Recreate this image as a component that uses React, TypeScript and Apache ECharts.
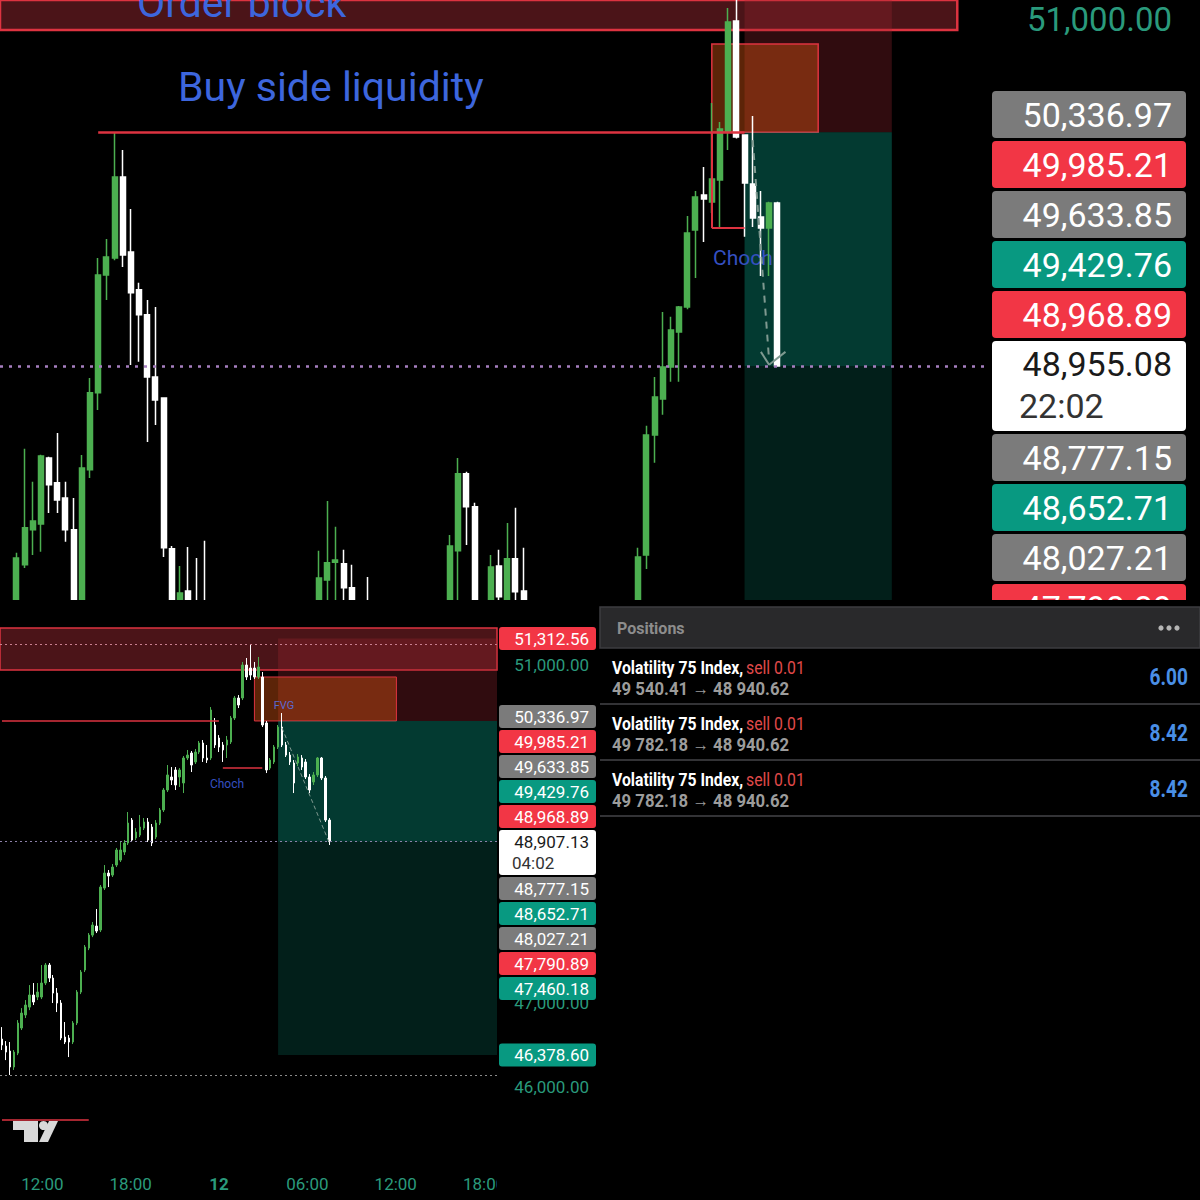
import React, { useEffect, useRef } from "react";
import * as echarts from "echarts";

// ---------------- DATA ----------------
// Top (zoomed) chart candles: [open, close, low, high]
const topCandles: number[][] = [
  [47320, 47410, 47280, 47450],
  [47400, 47360, 47300, 47480],
  [47500, 47820, 47450, 47850],
  [47780, 47998, 47760, 48465],
  [47986, 48039, 47838, 48270],
  [48021, 48423, 47856, 48430],
  [48411, 48252, 48086, 48418],
  [48264, 48163, 48086, 48559],
  [48175, 47986, 47915, 48270],
  [47986, 47470, 47450, 48175],
  [47470, 48352, 47450, 48429],
  [48341, 48796, 48293, 48884],
  [48796, 49493, 48695, 49593],
  [49493, 49599, 49345, 49706],
  [49593, 50072, 49580, 50338],
  [50072, 49611, 49540, 50232],
  [49629, 49387, 48961, 49883],
  [49405, 49257, 48979, 49446],
  [49257, 48890, 48506, 49345],
  [48890, 48754, 48606, 49304],
  [48766, 47880, 47826, 48770],
  [47874, 47470, 47450, 47891],
  [47470, 47613, 47450, 47773],
  [47625, 47500, 47450, 47885],
  [47550, 47470, 47450, 47820],
  [47520, 47470, 47450, 47921],
  [47440, 47310, 47250, 47490],
  [47310, 47180, 47120, 47360],
  [47180, 47240, 47090, 47300],
  [47240, 47100, 47040, 47280],
  [47100, 47020, 46950, 47150],
  [47020, 47130, 46980, 47190],
  [47130, 47060, 47000, 47210],
  [47060, 47190, 47010, 47250],
  [47190, 47280, 47140, 47330],
  [47280, 47220, 47170, 47350],
  [47220, 47350, 47180, 47400],
  [47350, 47300, 47240, 47420],
  [47300, 47420, 47260, 47480],
  [47470, 47702, 47450, 47862],
  [47690, 47791, 47500, 48157],
  [47795, 47808, 47500, 48004],
  [47785, 47643, 47550, 47868],
  [47643, 47470, 47450, 47779],
  [47450, 47400, 47350, 47500],
  [47480, 47460, 47450, 47708],
  [47420, 47330, 47280, 47460],
  [47330, 47210, 47160, 47380],
  [47210, 47280, 47150, 47330],
  [47280, 47160, 47100, 47320],
  [47160, 47250, 47120, 47300],
  [47250, 47340, 47200, 47390],
  [47340, 47290, 47230, 47410],
  [47290, 47380, 47250, 47430],
  [47380, 47470, 47340, 47520],
  [47480, 47891, 47450, 47956],
  [47862, 48317, 47500, 48411],
  [48317, 48122, 47897, 48330],
  [48122, 47470, 47450, 48146],
  [47450, 47380, 47320, 47520],
  [47470, 47767, 47450, 47838],
  [47773, 47590, 47500, 47868],
  [47500, 47815, 47450, 48027],
  [47815, 47620, 47550, 48116],
  [47625, 47470, 47450, 47880],
  [47450, 47360, 47300, 47500],
  [47360, 47240, 47190, 47410],
  [47240, 47310, 47180, 47360],
  [47310, 47190, 47130, 47350],
  [47190, 47080, 47030, 47230],
  [47080, 47150, 47020, 47200],
  [47150, 47230, 47100, 47280],
  [47230, 47170, 47110, 47290],
  [47170, 47260, 47130, 47310],
  [47260, 47340, 47220, 47390],
  [47340, 47290, 47240, 47400],
  [47290, 47380, 47250, 47430],
  [47380, 47460, 47330, 47510],
  [47470, 47826, 47450, 47880],
  [47838, 48547, 47755, 48601],
  [48547, 48772, 48382, 48890],
  [48760, 48949, 48666, 49274],
  [48949, 49168, 48861, 49245],
  [49156, 49304, 48861, 49310],
  [49304, 49741, 49290, 49842],
  [49759, 49954, 49475, 49989],
  [49966, 49942, 49688, 50131],
  [49924, 50060, 49859, 50510],
  [50054, 50356, 49777, 50397],
  [50338, 50988, 50232, 51071],
  [50994, 50309, 50300, 51140],
  [50320, 50037, 49718, 50320],
  [50031, 49830, 49777, 50433],
  [49836, 49771, 49487, 49989],
  [49771, 49918, 49487, 49925],
  [49918, 48955, 48950, 49925],
];

// Bottom (overview) chart candles: [open, close, low, high]
const bottomCandles: number[][] = [
  [46568, 46497, 46438, 46710],
  [46485, 46414, 46319, 46544],
  [46426, 46237, 46142, 46533],
  [46237, 46414, 46202, 46438],
  [46402, 46758, 46378, 46793],
  [46699, 46876, 46675, 46935],
  [46853, 46971, 46817, 47030],
  [46947, 47090, 46911, 47208],
  [47090, 47007, 46971, 47232],
  [47066, 47125, 47030, 47232],
  [47066, 47232, 47042, 47445],
  [47232, 47445, 47208, 47469],
  [47445, 47291, 47244, 47469],
  [47291, 47113, 46995, 47327],
  [47113, 46995, 46888, 47173],
  [46995, 46580, 46556, 47030],
  [46592, 46533, 46509, 46770],
  [46580, 46533, 46355, 46616],
  [46533, 46758, 46509, 46781],
  [46758, 47125, 46734, 47149],
  [47125, 47362, 47101, 47386],
  [47386, 47658, 47362, 47682],
  [47646, 47800, 47622, 47824],
  [47800, 47919, 47776, 47955],
  [47907, 47848, 47824, 48109],
  [47860, 48369, 47836, 48393],
  [48357, 48535, 48334, 48630],
  [48535, 48500, 48369, 48571],
  [48511, 48606, 48488, 48642],
  [48630, 48808, 48606, 48832],
  [48689, 48808, 48666, 48903],
  [48784, 48891, 48749, 48926],
  [48891, 49128, 48867, 49258],
  [49163, 48926, 48903, 49187],
  [48950, 49021, 48926, 49068],
  [48985, 49080, 48962, 49223],
  [49068, 49140, 49045, 49187],
  [49140, 48926, 48903, 49187],
  [49080, 48891, 48855, 49116],
  [48962, 49128, 48938, 49163],
  [49128, 49282, 49104, 49306],
  [49282, 49519, 49258, 49543],
  [49519, 49697, 49495, 49815],
  [49673, 49637, 49578, 49791],
  [49756, 49578, 49519, 49791],
  [49673, 49756, 49555, 49779],
  [49602, 49898, 49483, 49922],
  [49898, 49933, 49874, 49993],
  [49957, 49815, 49732, 49981],
  [49851, 49969, 49827, 50005],
  [49969, 50076, 49945, 50100],
  [50076, 49898, 49851, 50111],
  [49898, 49874, 49839, 50052],
  [49898, 50467, 49874, 50502],
  [50289, 50052, 50017, 50372],
  [50135, 50028, 49969, 50170],
  [50052, 49993, 49851, 50088],
  [50052, 50111, 49898, 50159],
  [50088, 50372, 50064, 50396],
  [50372, 50609, 50348, 50633],
  [50609, 50526, 50490, 50644],
  [50609, 51000, 50585, 51036],
  [51000, 50858, 50822, 51083],
  [50964, 50881, 50822, 51237],
  [50964, 50858, 50834, 51036],
  [50858, 50976, 50834, 51095],
  [50858, 50289, 50265, 50917],
  [50313, 49756, 49720, 50337],
  [49779, 49874, 49756, 49898],
  [49851, 50028, 49827, 50052],
  [50028, 50265, 50005, 50289],
  [50265, 50052, 50028, 50431],
  [50052, 49933, 49910, 50088],
  [49933, 49851, 49815, 49969],
  [49839, 49602, 49483, 49874],
  [49839, 49910, 49803, 49945],
  [49898, 49791, 49756, 49933],
  [49851, 49673, 49649, 49886],
  [49673, 49519, 49483, 49708],
  [49614, 49697, 49578, 49732],
  [49697, 49898, 49673, 49910],
  [49898, 49661, 49637, 49910],
  [49661, 49163, 49140, 49685],
  [49163, 48907, 48867, 49187],
];

const TOP_CATEGORY_COUNT = 122;
const BOTTOM_CATEGORY_COUNT = 126;
const TIME_CATEGORY_COUNT = 135;

const topAxisValues = [51000];
const bottomAxisValues = [51000, 47000, 46000];
const timeTickIndex = [11, 35, 59, 83, 107, 131];
const timeTickLabels = ["12:00", "18:00", "12", "06:00", "12:00", "18:00"];

// price levels
const orderBlockLow = 50941;
const orderBlockHigh = 51438;
const stopLossPrice = 51312.56;
const entryPrice = 50336.97;
const takeProfitPrice = 46378.6;
const fvgLow = 50337;
const fvgHigh = 50858;
const topCurrentPrice = 48955.08;
const bottomCurrentPrice = 48907.13;
const topChochLevel = 49771;
const bottomChochLevel = 49779;
const bottomObDottedLevel = 51240;
const bottomLowDottedLevel = 46140;
const bottomRedLevel = 45609;

// price tags
const topTagLabels = ["50,336.97", "49,985.21", "49,633.85", "49,429.76", "48,968.89", "48,955.08", "48,777.15", "48,652.71", "48,027.21", "47,790.89"];
const topTagKinds = ["gray", "red", "gray", "teal", "red", "current", "gray", "teal", "gray", "red"];
const topClock = "22:02";
const bottomTagLabels = ["50,336.97", "49,985.21", "49,633.85", "49,429.76", "48,968.89", "48,907.13", "48,777.15", "48,652.71", "48,027.21", "47,790.89", "47,460.18"];
const bottomTagKinds = ["gray", "red", "gray", "teal", "red", "current", "gray", "teal", "gray", "red", "teal"];
const bottomClock = "04:02";
const stopLossLabel = "51,312.56";
const takeProfitLabel = "46,378.60";

// positions panel
const positionSymbols = ["Volatility 75 Index,", "Volatility 75 Index,", "Volatility 75 Index,"];
const positionSides = ["sell 0.01", "sell 0.01", "sell 0.01"];
const positionOpen = ["49 540.41", "49 782.18", "49 782.18"];
const positionNow = ["48 940.62", "48 940.62", "48 940.62"];
const positionProfit = ["6.00", "8.42", "8.42"];

// ---------------- STYLE ----------------
const GREEN = "#4caf50";
const WHITE = "#ffffff";
const AXIS_GREEN = "#2a9a7c";
const BLUE_TXT = "#3d66dd";
const TAG_FILL: Record<string, string> = { gray: "#7b7b7b", red: "#f23645", teal: "#089981", current: "#ffffff" };

const fmt = (v: number) => v.toLocaleString("en-US", { minimumFractionDigits: 2, maximumFractionDigits: 2 });

function buildOption() {
  const topCats = Array.from({ length: TOP_CATEGORY_COUNT }, (_, i) => String(i));
  const bottomCats = Array.from({ length: BOTTOM_CATEGORY_COUNT }, (_, i) => String(i));
  const timeCats = Array.from({ length: TIME_CATEGORY_COUNT }, (_, i) => String(i));

  const obFill = "rgba(150,40,48,0.5)";
  const slFill = "rgba(160,40,50,0.3)";
  const fvgFill = "rgba(230,90,20,0.4)";
  const tpUpper = "rgba(8,153,129,0.38)";
  const tpLower = "rgba(8,153,129,0.2)";
  const red = "#dd3340";

  return {
    animation: false,
    backgroundColor: "#000",
    textStyle: { fontFamily: "Roboto" },
    grid: [
      { left: 0, top: 0, width: 990, height: 600 },
      { left: 0, top: 605, width: 497, height: 555 },
    ],
    xAxis: [
      { type: "category", gridIndex: 0, data: topCats, boundaryGap: false, show: false },
      { type: "category", gridIndex: 1, data: bottomCats, boundaryGap: true, show: false },
      {
        type: "category",
        gridIndex: 1,
        data: timeCats,
        boundaryGap: true,
        position: "bottom",
        axisLine: { show: false },
        axisTick: { show: false },
        splitLine: { show: false },
        axisLabel: {
          interval: (index: number) => timeTickIndex.includes(index),
          formatter: (_v: string, index: number) => {
            const k = timeTickIndex.indexOf(index);
            if (k < 0) return "";
            return timeTickLabels[k] === "12" ? "{b|12}" : timeTickLabels[k];
          },
          color: AXIS_GREEN,
          fontSize: 17,
          margin: 15,
          rich: { b: { fontWeight: "bold", fontSize: 17, color: AXIS_GREEN } },
        },
      },
    ],
    yAxis: [
      {
        type: "value",
        gridIndex: 0,
        position: "right",
        min: 47571.3,
        max: 51118.2,
        splitLine: { show: false },
        axisLine: { show: false },
        axisTick: { show: false },
        axisLabel: { customValues: topAxisValues, formatter: fmt, color: AXIS_GREEN, fontSize: 33, align: "right", margin: 182 },
      },
      {
        type: "value",
        gridIndex: 1,
        position: "right",
        min: 45135.2,
        max: 51710.9,
        splitLine: { show: false },
        axisLine: { show: false },
        axisTick: { show: false },
        axisLabel: { customValues: bottomAxisValues, formatter: fmt, color: AXIS_GREEN, fontSize: 17, align: "right", margin: 92 },
      },
    ],
    series: [
      {
        type: "candlestick",
        xAxisIndex: 0,
        yAxisIndex: 0,
        z: 3,
        clip: true,
        barWidth: 5.5,
        data: topCandles,
        itemStyle: { color: GREEN, color0: WHITE, borderColor: GREEN, borderColor0: WHITE, borderWidth: 1.5 },
        markArea: {
          z: 1,
          silent: true,
          label: { show: false },
          data: [
            [{ xAxis: 0, yAxis: orderBlockLow, itemStyle: { color: obFill, borderColor: red, borderWidth: 2.5 } }, { xAxis: 117, yAxis: orderBlockHigh }],
            [{ xAxis: 91, yAxis: entryPrice, itemStyle: { color: slFill, borderWidth: 0 } }, { xAxis: 109, yAxis: stopLossPrice + 200 }],
            [{ xAxis: 87, yAxis: fvgLow, itemStyle: { color: fvgFill, borderColor: red, borderWidth: 1.5 } }, { xAxis: 100, yAxis: fvgHigh }],
            [{ xAxis: 91, yAxis: topCurrentPrice, itemStyle: { color: tpUpper, borderWidth: 0 } }, { xAxis: 109, yAxis: entryPrice }],
            [{ xAxis: 91, yAxis: takeProfitPrice, itemStyle: { color: tpLower, borderWidth: 0 } }, { xAxis: 109, yAxis: topCurrentPrice }],
          ],
        },
        markLine: {
          z: 4,
          silent: true,
          symbol: ["none", "none"],
          label: { show: false },
          data: [
            { yAxis: topCurrentPrice, lineStyle: { color: "#a67fc0", width: 2.5, type: [3, 6] } },
            [{ coord: [12, entryPrice], lineStyle: { color: red, width: 2.5, type: "solid" } }, { coord: [91, entryPrice] }],
            [{ coord: [87, topChochLevel], lineStyle: { color: red, width: 2, type: "solid" } }, { coord: [91, topChochLevel] }],
            [{ coord: [87, fvgLow], lineStyle: { color: red, width: 2, type: "solid" } }, { coord: [87, topChochLevel] }],
            [{ coord: [92, 50290], lineStyle: { color: "#7f9990", width: 2, type: [7, 6] } }, { coord: [94, 48990] }],
            [{ coord: [93, 49038], lineStyle: { color: "#7f9990", width: 2, type: "solid" } }, { coord: [94, 48962] }],
            [{ coord: [96, 49038], lineStyle: { color: "#7f9990", width: 2, type: "solid" } }, { coord: [94, 48962] }],
          ],
        },
      },
      {
        type: "candlestick",
        xAxisIndex: 1,
        yAxisIndex: 1,
        z: 3,
        clip: true,
        barWidth: 2,
        data: bottomCandles,
        itemStyle: { color: GREEN, color0: WHITE, borderColor: GREEN, borderColor0: WHITE, borderWidth: 1 },
        markArea: {
          z: 1,
          silent: true,
          label: { show: false },
          data: [
            [{ yAxis: orderBlockLow, itemStyle: { color: obFill, borderColor: red, borderWidth: 1.5 } }, { yAxis: orderBlockHigh }],
            [{ xAxis: 70, yAxis: entryPrice, itemStyle: { color: slFill, borderWidth: 0 } }, { yAxis: stopLossPrice }],
            [{ xAxis: 64, yAxis: fvgLow, itemStyle: { color: fvgFill, borderColor: red, borderWidth: 1 } }, { xAxis: 100, yAxis: fvgHigh }],
            [{ xAxis: 70, yAxis: bottomCurrentPrice, itemStyle: { color: tpUpper, borderWidth: 0 } }, { yAxis: entryPrice }],
            [{ xAxis: 70, yAxis: takeProfitPrice, itemStyle: { color: tpLower, borderWidth: 0 } }, { yAxis: bottomCurrentPrice }],
          ],
        },
        markLine: {
          z: 4,
          silent: true,
          symbol: ["none", "none"],
          label: { show: false },
          data: [
            { yAxis: bottomCurrentPrice, lineStyle: { color: "#8c80a8", width: 1.2, type: [2, 3] } },
            { yAxis: bottomObDottedLevel, lineStyle: { color: "#c98090", width: 1.2, type: [2, 3] } },
            { yAxis: bottomLowDottedLevel, lineStyle: { color: "#8a8a8a", width: 1.2, type: [2, 3] } },
            [{ coord: [0, entryPrice], lineStyle: { color: red, width: 1.5, type: "solid" } }, { coord: [55, entryPrice] }],
            [{ coord: [56, bottomChochLevel], lineStyle: { color: red, width: 1.5, type: "solid" } }, { coord: [66, bottomChochLevel] }],
            [{ coord: [71, 50254], lineStyle: { color: "#7f9990", width: 1, type: [4, 3] } }, { coord: [83, 48891] }],
            [{ coord: [0, bottomRedLevel], lineStyle: { color: red, width: 1.5, type: "solid" } }, { coord: [22, bottomRedLevel] }],
          ],
        },
      },
    ],
  };
}

type TagLayout = {
  x: number; w: number; startY: number; h: number; curH: number; gap: number;
  fs: number; textRight: number; textLeft: number; line1: number; line2: number; r: number;
};

function stackTags(labels: string[], kinds: string[], clock: string, L: TagLayout) {
  const els: any[] = [];
  let y = L.startY;
  labels.forEach((label, i) => {
    const kind = kinds[i];
    const h = kind === "current" ? L.curH : L.h;
    els.push({ type: "rect", z: 30, shape: { x: L.x, y, width: L.w, height: h, r: L.r }, style: { fill: TAG_FILL[kind] } });
    if (kind === "current") {
      els.push({ type: "text", z: 31, style: { text: label, x: L.textRight, y: y + L.line1, align: "right", verticalAlign: "middle", fontSize: L.fs, fontFamily: "Roboto", fill: "#1a1a1a" } });
      els.push({ type: "text", z: 31, style: { text: clock, x: L.textLeft, y: y + L.line2, align: "left", verticalAlign: "middle", fontSize: L.fs, fontFamily: "Roboto", fill: "#333" } });
    } else {
      els.push({ type: "text", z: 31, style: { text: label, x: L.textRight, y: y + h / 2, align: "right", verticalAlign: "middle", fontSize: L.fs, fontFamily: "Roboto", fill: "#fff" } });
    }
    y += h + L.gap;
  });
  return els;
}

function singleTag(label: string, kind: string, cy: number, L: TagLayout) {
  return [
    { type: "rect", z: 30, shape: { x: L.x, y: cy - L.h / 2, width: L.w, height: L.h, r: L.r }, style: { fill: TAG_FILL[kind] } },
    { type: "text", z: 31, style: { text: label, x: L.textRight, y: cy, align: "right", verticalAlign: "middle", fontSize: L.fs, fontFamily: "Roboto", fill: "#fff" } },
  ];
}

function buildGraphic(slY: number, tpY: number) {
  const els: any[] = [];
  const topL: TagLayout = { x: 992, w: 194, startY: 91, h: 47, curH: 90, gap: 3, fs: 34, textRight: 1172, textLeft: 1019, line1: 23, line2: 65, r: 4 };
  const botL: TagLayout = { x: 499, w: 97, startY: 705, h: 23, curH: 45, gap: 2, fs: 17, textRight: 589, textLeft: 512, line1: 12, line2: 33, r: 3 };

  // annotations on top chart
  els.push({ type: "text", z: 6, style: { text: "Order block", x: 137, y: 3, verticalAlign: "middle", fontSize: 41, fontFamily: "Roboto", fill: BLUE_TXT } });
  els.push({ type: "text", z: 6, style: { text: "Buy side liquidity", x: 178, y: 87, verticalAlign: "middle", fontSize: 41, fontFamily: "Roboto", fill: BLUE_TXT } });
  els.push({ type: "text", z: 2, style: { text: "Choch", x: 713, y: 258, verticalAlign: "middle", fontSize: 21, fontFamily: "Roboto", fill: "#3550c0" } });
  // annotations on bottom chart
  els.push({ type: "text", z: 2, style: { text: "Choch", x: 227, y: 784, align: "center", verticalAlign: "middle", fontSize: 12, fontFamily: "Roboto", fill: "#3550c0" } });
  els.push({ type: "text", z: 2, style: { text: "FVG", x: 284, y: 705, align: "center", verticalAlign: "middle", fontSize: 11, fontFamily: "Roboto", fill: "#5a6ad0" } });

  // tags
  els.push(...stackTags(topTagLabels, topTagKinds, topClock, topL));
  els.push(...stackTags(bottomTagLabels, bottomTagKinds, bottomClock, botL));
  els.push(...singleTag(stopLossLabel, "red", slY, botL));
  els.push(...singleTag(takeProfitLabel, "teal", tpY, botL));

  // separator between the two screenshots (hides overflow of the top chart)
  els.push({ type: "rect", z: 40, shape: { x: 0, y: 600, width: 600, height: 26 }, style: { fill: "#000" } });
  els.push({ type: "rect", z: 40, shape: { x: 600, y: 600, width: 600, height: 6 }, style: { fill: "#000" } });
  // clip time axis under price scale
  els.push({ type: "rect", z: 40, shape: { x: 497, y: 1165, width: 103, height: 35 }, style: { fill: "#000" } });

  // TradingView logo
  els.push({ type: "polygon", z: 41, shape: { points: [[13, 1121], [38, 1121], [38, 1142], [24, 1142], [24, 1130], [13, 1130]] }, style: { fill: "#d9d9d9" } });
  els.push({ type: "circle", z: 41, shape: { cx: 43.5, cy: 1125.5, r: 4.5 }, style: { fill: "#d9d9d9" } });
  els.push({ type: "polygon", z: 41, shape: { points: [[49, 1121], [58, 1121], [48, 1142], [39, 1142]] }, style: { fill: "#d9d9d9" } });

  // positions panel
  els.push({ type: "rect", z: 45, shape: { x: 600, y: 606, width: 600, height: 594 }, style: { fill: "#000" } });
  els.push({ type: "rect", z: 46, shape: { x: 600, y: 607, width: 600, height: 41 }, style: { fill: "#29292b", stroke: "#3d3d40", lineWidth: 1.5 } });
  els.push({ type: "text", z: 47, style: { text: "Positions", x: 617, y: 628, verticalAlign: "middle", fontSize: 16, fontWeight: "bold", fontFamily: "Roboto", fill: "#8d8d8d" } });
  [1161, 1169, 1177].forEach((cx) => {
    els.push({ type: "circle", z: 47, shape: { cx, cy: 628, r: 2.6 }, style: { fill: "#b5b5b5" } });
  });
  positionSymbols.forEach((sym, k) => {
    const y0 = 667 + 56 * k;
    els.push({
      type: "text", z: 47, x: 612, y: y0, scaleX: 0.83,
      style: {
        text: `{s|${sym}} {d|${positionSides[k]}}`, x: 0, y: 0, verticalAlign: "middle",
        rich: {
          s: { fontSize: 19, fontWeight: "bold", fontFamily: "Roboto", fill: "#ffffff" },
          d: { fontSize: 19, fontFamily: "Roboto", fill: "#e04a4a" },
        },
      },
    });
    els.push({ type: "text", z: 47, x: 612, y: y0 + 21, scaleX: 0.88, style: { text: `${positionOpen[k]} → ${positionNow[k]}`, x: 0, y: 0, verticalAlign: "middle", fontSize: 19, fontWeight: "bold", fontFamily: "Roboto", fill: "#9c9c9c" } });
    els.push({ type: "text", z: 47, x: 1188, y: y0 + 10, scaleX: 0.83, style: { text: positionProfit[k], x: 0, y: 0, align: "right", verticalAlign: "middle", fontSize: 23, fontWeight: "bold", fontFamily: "Roboto", fill: "#4a8fe6" } });
    els.push({ type: "rect", z: 47, shape: { x: 600, y: y0 + 36, width: 600, height: 2 }, style: { fill: "#333336" } });
  });
  return els;
}

export default function App() {
  const ref = useRef<HTMLDivElement>(null);
  useEffect(() => {
    if (!ref.current) return;
    const chart = echarts.init(ref.current, null, { renderer: "svg", width: 1200, height: 1200 });
    chart.setOption(buildOption() as any);
    const slY = chart.convertToPixel({ yAxisIndex: 1 } as any, stopLossPrice) as unknown as number;
    const tpY = chart.convertToPixel({ yAxisIndex: 1 } as any, takeProfitPrice) as unknown as number;
    chart.setOption({ graphic: { elements: buildGraphic(slY, tpY) } } as any);
    return () => chart.dispose();
  }, []);
  return <div ref={ref} style={{ position: "absolute", left: 0, top: 0, width: 1200, height: 1200, background: "#000" }} />;
}
